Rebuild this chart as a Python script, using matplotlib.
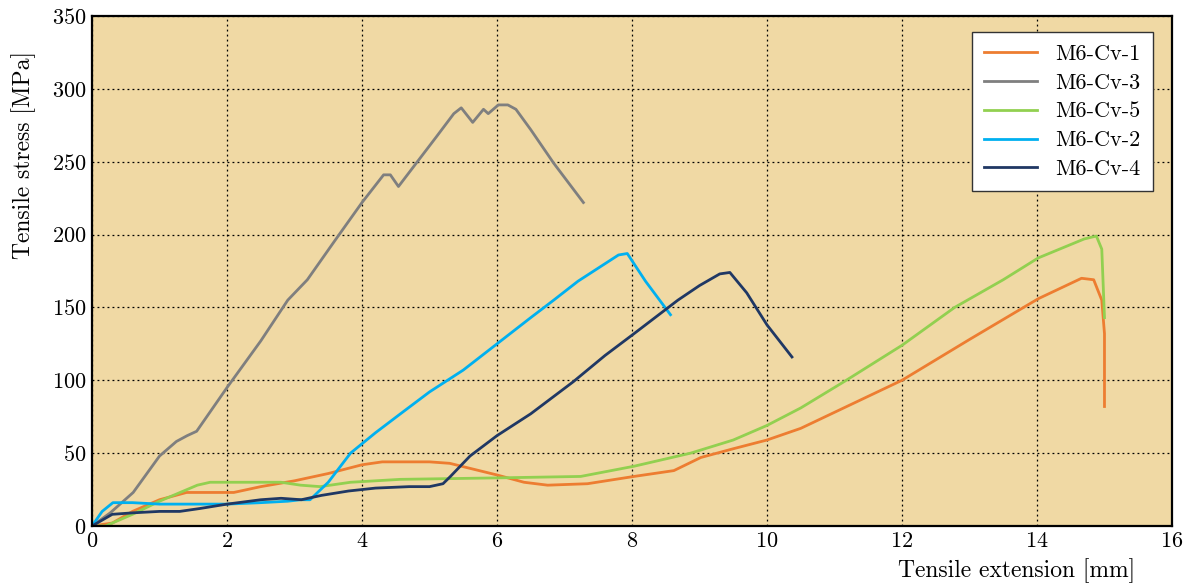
import numpy as np
import matplotlib.pyplot as plt

# Tensile curves (extension in mm, stress in MPa)
x_cv1 = [0, 0.3, 0.6, 1.0, 1.4, 2.1, 2.5, 3.0, 3.5, 4.0, 4.3, 4.6, 5.0, 5.3, 5.56, 6.0, 6.4, 6.75,
         7.34, 8.03, 8.62, 9.02, 9.5, 10.0, 10.5, 11.0, 12.0, 13.0, 14.02, 14.66, 14.84, 14.96, 15.0, 15.0]
y_cv1 = [0, 2, 10, 18, 23, 23, 27, 31, 36, 42, 44, 44, 44, 43, 40, 35, 30, 28,
         29, 34, 38, 47, 53, 59, 67, 78, 100, 128, 156, 170, 169, 155, 132, 82]

x_cv3 = [0, 0.27, 0.61, 1.0, 1.25, 1.41, 1.55, 2.0, 2.5, 2.9, 3.19, 3.6, 4.0, 4.32, 4.42, 4.54,
         4.82, 5.1, 5.36, 5.47, 5.64, 5.8, 5.87, 6.02, 6.16, 6.28, 6.5, 6.84, 7.28]
y_cv3 = [0, 9, 23, 48, 58, 62, 65, 95, 127, 155, 169, 196, 222, 241, 241, 233,
         250, 267, 283, 287, 277, 286, 283, 289, 289, 286, 272, 249, 222]

x_cv5 = [0, 0.2, 0.6, 1.0, 1.56, 1.75, 2.8, 3.09, 3.38, 3.83, 4.57, 6.0, 7.24, 8.03, 8.87, 9.5,
         10.0, 10.5, 11.14, 12.0, 12.78, 13.5, 14.02, 14.7, 14.88, 14.96, 15.0]
y_cv5 = [0, 0, 8, 17, 28, 30, 30, 28, 27, 30, 32, 33, 34, 41, 50, 59,
         69, 81, 99, 124, 150, 169, 184, 197, 199, 190, 143]

x_cv2 = [0, 0.15, 0.31, 0.6, 1.0, 1.5, 2.0, 2.5, 2.9, 3.09, 3.23, 3.5, 3.83, 4.2, 4.57, 5.0,
         5.5, 6.0, 6.5, 6.84, 7.2, 7.5, 7.8, 7.93, 8.2, 8.57]
y_cv2 = [0, 10, 16, 16, 15, 15, 15, 16, 17, 18, 18, 30, 50, 64, 77, 92,
         107, 125, 143, 155, 168, 177, 186, 187, 168, 145]

x_cv4 = [0, 0.3, 0.6, 1.0, 1.3, 1.6, 2.0, 2.5, 2.8, 3.1, 3.4, 3.8, 4.2, 4.7, 5.0, 5.2, 5.31,
         5.6, 6.0, 6.5, 7.13, 7.6, 8.03, 8.68, 9.0, 9.3, 9.45, 9.7, 10.0, 10.37]
y_cv4 = [0, 8, 9, 10, 10, 12, 15, 18, 19, 18, 21, 24, 26, 27, 27, 29, 34,
         48, 62, 77, 99, 117, 132, 155, 165, 173, 174, 160, 138, 116]

plt.rcParams['font.family'] = 'serif'
plt.rcParams['font.serif'] = ['cmr10']
plt.rcParams['mathtext.fontset'] = 'cm'
plt.rcParams['axes.formatter.use_mathtext'] = True

fig = plt.figure(figsize=(11.92, 5.85), dpi=100)
ax = fig.add_axes([0.0772, 0.1009, 0.906, 0.8717])
ax.set_facecolor('#F0D9A4')

lw = 2.0
ax.plot(x_cv1, y_cv1, color='#ED7D31', lw=lw, label='M6-Cv-1')
ax.plot(x_cv3, y_cv3, color='#7F7F7F', lw=lw, label='M6-Cv-3')
ax.plot(x_cv5, y_cv5, color='#92D050', lw=lw, label='M6-Cv-5')
ax.plot(x_cv2, y_cv2, color='#00B0F0', lw=lw, label='M6-Cv-2')
ax.plot(x_cv4, y_cv4, color='#203864', lw=lw, label='M6-Cv-4')

ax.set_xlim(0, 16)
ax.set_ylim(0, 350)
ax.set_xticks(np.arange(0, 17, 2))
ax.set_yticks(np.arange(0, 351, 50))
ax.tick_params(length=0, labelsize=16, pad=4)
ax.grid(True, color='black', linestyle=(0, (1.5, 2.5)), linewidth=0.9)
for s in ax.spines.values():
    s.set_linewidth(1.6)

ax.set_ylabel('Tensile stress [MPa]', fontsize=17)
ax.yaxis.set_label_coords(-0.052, 0.727)
ax.set_xlabel('Tensile extension [mm]', fontsize=17, ha='right')
ax.xaxis.set_label_coords(0.9657, -0.064)

leg = ax.legend(loc='upper right', fontsize=16, fancybox=False, framealpha=1,
                edgecolor='#333333', handlelength=2.4, borderpad=0.55,
                labelspacing=0.42, borderaxespad=0,
                bbox_to_anchor=(0.982, 0.969))
leg.get_frame().set_linewidth(1.0)

plt.savefig('out.png', dpi=100)
